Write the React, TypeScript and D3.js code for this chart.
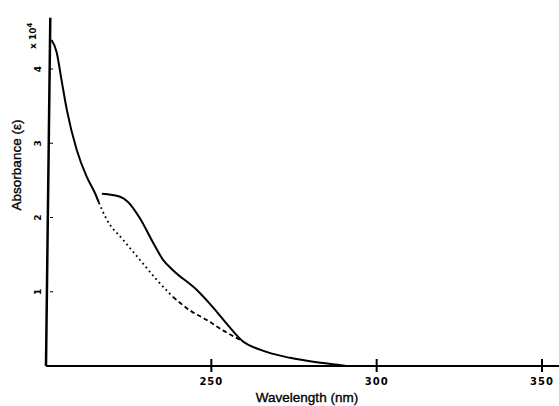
import React from 'react';
import * as d3 from 'd3';

// wavelength (nm) / absorbance (x 10^4)
const mainDrop = [
  { nm: 201.7, a: 4.39 }, { nm: 203.2, a: 4.23 }, { nm: 204.7, a: 3.85 },
  { nm: 206.3, a: 3.45 }, { nm: 209.3, a: 2.91 }, { nm: 212.3, a: 2.55 },
  { nm: 214.8, a: 2.33 }, { nm: 216.0, a: 2.2 },
];
const shoulder = [
  { nm: 216.9, a: 2.32 }, { nm: 222.4, a: 2.28 }, { nm: 224.8, a: 2.21 },
  { nm: 228.4, a: 1.99 }, { nm: 232.4, a: 1.66 }, { nm: 235.4, a: 1.43 },
  { nm: 238.4, a: 1.29 }, { nm: 245.7, a: 1.02 }, { nm: 250.5, a: 0.79 },
  { nm: 255.0, a: 0.55 }, { nm: 259.6, a: 0.33 }, { nm: 264.7, a: 0.22 },
  { nm: 273.8, a: 0.11 }, { nm: 283.8, a: 0.04 }, { nm: 290.9, a: 0 },
];
const dottedPart = [
  { nm: 216.0, a: 2.2 }, { nm: 218.4, a: 1.97 }, { nm: 223.3, a: 1.7 },
  { nm: 228.4, a: 1.43 }, { nm: 233.5, a: 1.16 }, { nm: 238.4, a: 0.93 },
];
const dashedPart = [
  { nm: 238.4, a: 0.93 }, { nm: 243.5, a: 0.75 }, { nm: 248.6, a: 0.62 },
  { nm: 253.5, a: 0.48 }, { nm: 259.6, a: 0.33 },
];
const xTicks = [250, 300, 350];
const yTicks = [1, 2, 3, 4];
const yTop = 4.69;

const W = 559;
const H = 406;

export default function App() {
  const x = d3.scaleLinear().domain([200, 350]).range([46, 542]);
  const y = d3.scaleLinear().domain([0, 4]).range([366, 69]);

  const line = d3.line<{ nm: number; a: number }>()
    .x(d => x(d.nm))
    .y(d => y(d.a))
    .curve(d3.curveMonotoneX);

  return (
    <svg width={W} height={H} style={{ position: 'absolute', left: 0, top: 0, background: '#fff' }}>
      {/* axes (the scanned y axis leans a little) */}
      <line x1={x(200)} x2={W} y1={y(0)} y2={y(0)} stroke="#000" strokeWidth={2} />
      <line x1={x(200)} x2={x(201.3)} y1={y(0)} y2={y(yTop)} stroke="#000" strokeWidth={2.5} />

      {xTicks.map(t => (
        <g key={t}>
          <line x1={x(t)} x2={x(t)} y1={y(0) - 7} y2={y(0) + 6} stroke="#000" strokeWidth={2} />
          <text x={x(t)} y={385} textAnchor="middle" fontFamily="DejaVu Sans" fontWeight="bold"
            fontSize={10} letterSpacing={1}>{t}</text>
        </g>
      ))}

      {yTicks.map(t => (
        <g key={t}>
          <line x1={x(200) + 4} x2={x(200) + 7} y1={y(t)} y2={y(t)} stroke="#000" strokeWidth={1} />
          <text transform={`translate(41,${y(t)}) rotate(-90)`} textAnchor="middle"
            fontFamily="DejaVu Sans" fontWeight="bold" fontSize={9}>{t}</text>
        </g>
      ))}

      <text transform="translate(36,49) rotate(-90)" fontFamily="DejaVu Sans" fontWeight="bold" fontSize={9}>
        x 10<tspan dy={-4} fontSize={7}>4</tspan>
      </text>

      <text transform="translate(21,165) rotate(-90)" textAnchor="middle"
        fontFamily="Liberation Sans, Arial, sans-serif" fontSize={13.5}
        stroke="#000" strokeWidth={0.35}>Absorbance (ε)</text>
      <text x={307} y={402} textAnchor="middle"
        fontFamily="Liberation Sans, Arial, sans-serif" fontSize={13.5}
        stroke="#000" strokeWidth={0.35}>Wavelength (nm)</text>

      {/* curves */}
      <path d={line(mainDrop) || ''} fill="none" stroke="#000" strokeWidth={2} />
      <path d={line(shoulder) || ''} fill="none" stroke="#000" strokeWidth={2} />
      <path d={line(dottedPart) || ''} fill="none" stroke="#000" strokeWidth={1.8} strokeDasharray="1.8,3.2" />
      <path d={line(dashedPart) || ''} fill="none" stroke="#000" strokeWidth={1.8} strokeDasharray="4.5,3" />
    </svg>
  );
}
